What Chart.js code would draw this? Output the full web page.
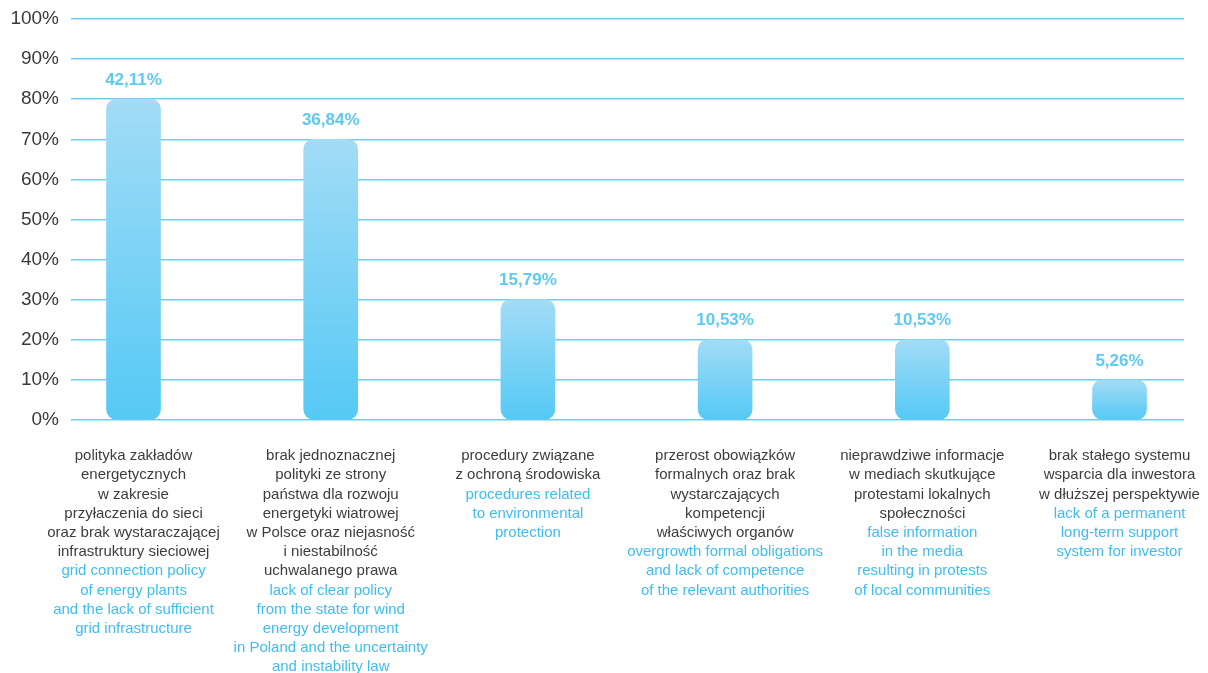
<!DOCTYPE html>
<html>
<head>
<meta charset="utf-8">
<script src="https://cdn.jsdelivr.net/npm/chart.js@4.4.1/dist/chart.umd.min.js"></script>
<style>
  html, body { margin: 0; padding: 0; background: #fff; }
  #wrap { width: 1208px; height: 673px; position: relative; }
</style>
</head>
<body>
<div id="wrap"><canvas id="myChart"></canvas></div>
<script>
// answers share (%), one bar per barrier
var values = [42.11, 36.84, 15.79, 10.53, 10.53, 5.26];

var plLabels = [
  ['polityka zakładów', 'energetycznych', 'w zakresie', 'przyłaczenia do sieci', 'oraz brak wystaraczającej', 'infrastruktury sieciowej'],
  ['brak jednoznacznej', 'polityki ze strony', 'państwa dla rozwoju', 'energetyki wiatrowej', 'w Polsce oraz niejasność', 'i niestabilność', 'uchwalanego prawa'],
  ['procedury związane', 'z ochroną środowiska'],
  ['przerost obowiązków', 'formalnych oraz brak', 'wystarczających', 'kompetencji', 'właściwych organów'],
  ['nieprawdziwe informacje', 'w mediach skutkujące', 'protestami lokalnych', 'społeczności'],
  ['brak stałego systemu', 'wsparcia dla inwestora', 'w dłuższej perspektywie']
];

var enLabels = [
  ['grid connection policy', 'of energy plants', 'and the lack of sufficient', 'grid infrastructure'],
  ['lack of clear policy', 'from the state for wind', 'energy development', 'in Poland and the uncertainty', 'and instability law'],
  ['procedures related', 'to environmental', 'protection'],
  ['overgrowth formal obligations', 'and lack of competence', 'of the relevant authorities'],
  ['false information', 'in the media', 'resulting in protests', 'of local communities'],
  ['lack of a permanent', 'long-term support', 'system for investor']
];

// axis is graded in tenths of the 19 answers: one step = 100/19 %
var tickLabels = ['0%', '10%', '20%', '30%', '40%', '50%', '60%', '70%', '80%', '90%', '100%'];
var step = 100 / 19;

var FONT = '"Liberation Sans", Arial, sans-serif';

var points = values.map(function (v, i) { return { x: i, y: v }; });

function barGradient(context) {
  var chart = context.chart;
  if (!chart.chartArea || !context.parsed) return '#7fd4f5';
  var y = chart.scales.y;
  var top = y.getPixelForValue(context.parsed.y);
  var bottom = y.getPixelForValue(0);
  if (!isFinite(top) || !isFinite(bottom) || top === bottom) return '#7fd4f5';
  var g = chart.ctx.createLinearGradient(0, top, 0, bottom);
  g.addColorStop(0, '#a2dcf6');
  g.addColorStop(1, '#55c9f5');
  return g;
}

var labelPlugin = {
  id: 'barTexts',
  afterDatasetsDraw: function (chart) {
    var ctx = chart.ctx;
    var meta = chart.getDatasetMeta(0);
    var xs = chart.scales.x;
    var bottom = chart.chartArea.bottom;
    ctx.save();
    ctx.textAlign = 'center';
    ctx.textBaseline = 'middle';

    // value above each bar
    ctx.font = 'bold 17px ' + FONT;
    ctx.fillStyle = '#5ccaf2';
    meta.data.forEach(function (bar, i) {
      ctx.fillText(values[i].toFixed(2).replace('.', ',') + '%', bar.x, bar.y - 19);
    });

    // descriptions under the axis: polish in grey, english in blue
    ctx.font = '15px ' + FONT;
    for (var i = 0; i < values.length; i++) {
      var x = xs.getPixelForValue(i);
      var y = bottom + 36;
      ctx.fillStyle = '#3d3d3d';
      plLabels[i].forEach(function (line) { ctx.fillText(line, x, y); y += 19.2; });
      ctx.fillStyle = '#3fbdf0';
      enLabels[i].forEach(function (line) { ctx.fillText(line, x, y); y += 19.2; });
    }
    ctx.restore();
  }
};

var ctx = document.getElementById('myChart').getContext('2d');
var myChart = new Chart(ctx, {
  type: 'bar',
  data: {
    datasets: [{
      data: points,
      backgroundColor: barGradient,
      borderWidth: 0,
      borderRadius: 10,
      borderSkipped: false,
      barThickness: 54
    }]
  },
  options: {
    responsive: true,
    maintainAspectRatio: false,
    animation: false,
    layout: { padding: { top: 19, right: 24, bottom: 253, left: 0 } },
    plugins: { legend: { display: false }, tooltip: { enabled: false } },
    scales: {
      x: {
        type: 'linear',
        offset: false,
        min: -0.317,
        max: 5.327,
        display: false
      },
      y: {
        min: 0,
        max: 100 * step / 10,
        afterBuildTicks: function (scale) {
          scale.ticks = tickLabels.map(function (t, i) { return { value: i * step }; });
        },
        afterFit: function (scale) {
          scale.width = 71;
          scale.paddingTop = 0;
          scale.paddingBottom = 0;
        },
        border: { display: false },
        grid: { color: '#6cccf2', lineWidth: 1.5, drawTicks: false },
        ticks: {
          padding: 12,
          color: '#3a3a3a',
          font: { family: FONT, size: 19 },
          callback: function (value, index) { return tickLabels[index]; }
        }
      }
    }
  },
  plugins: [labelPlugin]
});
</script>
</body>
</html>
